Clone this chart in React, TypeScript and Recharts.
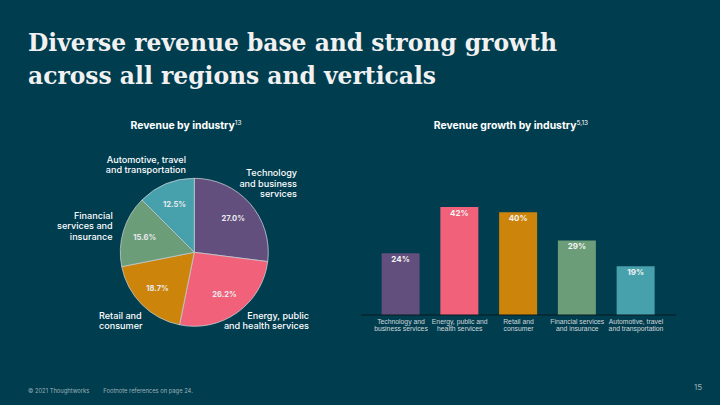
import React from "react";
import { PieChart, Pie, Cell, BarChart, Bar, XAxis, YAxis, LabelList } from "recharts";

const industries = [
  "Technology and business services",
  "Energy, public and health services",
  "Retail and consumer",
  "Financial services and insurance",
  "Automotive, travel and transportation",
];
const revenueShare = [27.0, 26.2, 18.7, 15.6, 12.5];
const revenueGrowth = [24, 42, 40, 29, 19];
const colors = ["#634F7D", "#F2617A", "#CC850A", "#6B9E78", "#47A1AD"];
const pieNameLines = [
  ["Technology", "and business", "services"],
  ["Energy, public", "and health services"],
  ["Retail and", "consumer"],
  ["Financial", "services and", "insurance"],
  ["Automotive, travel", "and transportation"],
];
const barTickLines = [
  ["Technology and", "business services"],
  ["Energy, public and", "health services"],
  ["Retail and", "consumer"],
  ["Financial services", "and insurance"],
  ["Automotive, travel", "and transportation"],
];

// layout for pie name annotations (anchor, x, first line y)
const pieNameLayout = [
  { anchor: "end", x: 297, y: 172.7 },
  { anchor: "end", x: 309, y: 315 },
  { anchor: "start", x: 99, y: 315 },
  { anchor: "end", x: 112.7, y: 215 },
  { anchor: "end", x: 186, y: 159 },
];

const pieData = industries.map((name, i) => ({ name, value: revenueShare[i] }));
const barData = industries.map((name, i) => ({ name, value: revenueGrowth[i] }));

const BG = "#003D4F";
const RAD = Math.PI / 180;

const PieLabel = (props: any) => {
  const { cx, cy, midAngle, outerRadius, value } = props;
  const r = outerRadius * 0.7;
  const x = cx + r * Math.cos(-midAngle * RAD);
  const y = cy + r * Math.sin(-midAngle * RAD);
  return (
    <text x={x} y={y} textAnchor="middle" dominantBaseline="central" fill="#E9E9EE" fontSize={7.6} fontWeight={700} fontFamily="Inter">
      {value.toFixed(1)}%
    </text>
  );
};

const BarTick = (props: any) => {
  const { x, y, payload } = props;
  const lines = barTickLines[payload.index] || [payload.value];
  return (
    <g>
      {lines.map((l: string, i: number) => (
        <text key={i} x={x} y={y + 6.7 + i * 6.8} textAnchor="middle" dominantBaseline="central" fill="#D0D8DB" fontSize={6.8} fontFamily="Liberation Sans, Arial">
          {l}
        </text>
      ))}
    </g>
  );
};

export default function App() {
  return (
    <div style={{ position: "relative", width: 720, height: 405, background: BG, overflow: "hidden", fontFamily: "Inter, sans-serif" }}>
      <style>{`body{margin:0}`}</style>
      <svg width={720} height={100} style={{ position: "absolute", left: 0, top: 0 }}>
        <text x={28} y={51} fill="#F1F1F1" fontSize={24} fontWeight={700} fontFamily="DejaVu Serif" textLength={529} lengthAdjust="spacingAndGlyphs">
          Diverse revenue base and strong growth
        </text>
        <text x={28} y={84.3} fill="#F1F1F1" fontSize={24} fontWeight={700} fontFamily="DejaVu Serif" textLength={408} lengthAdjust="spacingAndGlyphs">
          across all regions and verticals
        </text>
      </svg>

      <div style={{ position: "absolute", left: 86, top: 118, width: 200, textAlign: "center", color: "#FFFFFF", fontSize: 10.4, fontWeight: 700, lineHeight: "16px" }}>
        Revenue by industry<sup style={{ fontSize: 6.5, fontWeight: 400, verticalAlign: "top", position: "relative", top: -3 }}>13</sup>
      </div>
      <div style={{ position: "absolute", left: 411, top: 118, width: 200, textAlign: "center", color: "#FFFFFF", fontSize: 10.4, fontWeight: 700, lineHeight: "16px" }}>
        Revenue growth by industry<sup style={{ fontSize: 6.5, fontWeight: 400, verticalAlign: "top", position: "relative", top: -3 }}>5,13</sup>
      </div>

      <div style={{ position: "absolute", left: 0, top: 0 }}>
        <PieChart width={360} height={405} margin={{ top: 0, right: 0, bottom: 0, left: 0 }}>
          <Pie
            data={pieData}
            dataKey="value"
            nameKey="name"
            cx={194.3}
            cy={252.3}
            outerRadius={74}
            startAngle={90}
            endAngle={-270}
            stroke="#C3CCD0"
            strokeWidth={0.8}
            label={PieLabel}
            labelLine={false}
            isAnimationActive={false}
          >
            {pieData.map((d, i) => (
              <Cell key={d.name} fill={colors[i]} />
            ))}
          </Pie>
        </PieChart>
      </div>

      <svg width={360} height={405} style={{ position: "absolute", left: 0, top: 0 }}>
        {pieNameLines.map((lines, i) => (
          <g key={i}>
            {lines.map((l, j) => (
              <text key={j} x={pieNameLayout[i].x} y={pieNameLayout[i].y + j * 10.6} textAnchor={pieNameLayout[i].anchor as any} dominantBaseline="central" fill="#FFFFFF" fontSize={9.1} fontWeight={500} fontFamily="Inter">
                {l}
              </text>
            ))}
          </g>
        ))}
      </svg>

      <div style={{ position: "absolute", left: 0, top: 0 }}>
        <BarChart width={720} height={405} data={barData} margin={{ top: 186.5, right: 44, bottom: 70, left: 361 }}>
          <XAxis
            dataKey="name"
            height={20}
            interval={0}
            tickLine={false}
            tickSize={0}
            tickMargin={0}
            axisLine={{ stroke: "#0B1B21", strokeWidth: 1 }}
            padding={{ left: 10.6, right: 10.6 }}
            tick={BarTick}
          />
          <YAxis hide domain={[0, 50]} />
          <Bar dataKey="value" barSize={38} isAnimationActive={false}>
            {barData.map((d, i) => (
              <Cell key={d.name} fill={colors[i]} />
            ))}
            <LabelList dataKey="value" position="insideTop" offset={3} formatter={(v: any) => `${v}%`} fill="#F4F4F4" fontSize={8} fontWeight={700} fontFamily="Inter" />
          </Bar>
        </BarChart>
      </div>

      <div style={{ position: "absolute", left: 28, top: 386, fontSize: 5.8, color: "#9DB0B6", whiteSpace: "nowrap", lineHeight: "9px" }}>
        © 2021 Thoughtworks<span style={{ marginLeft: 14 }}>Footnote references on page 24.</span>
      </div>
      <div style={{ position: "absolute", left: 694, top: 382, fontSize: 8, color: "#9DB0B6", lineHeight: "11px" }}>15</div>
    </div>
  );
}
